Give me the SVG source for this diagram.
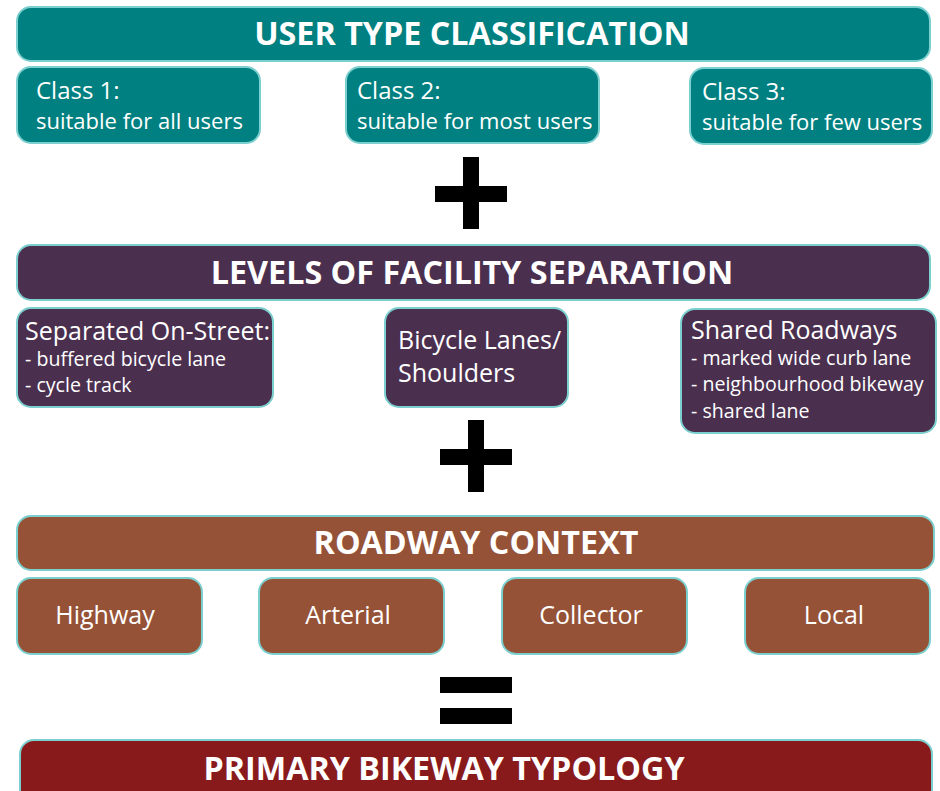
<svg xmlns="http://www.w3.org/2000/svg" width="940" height="791" viewBox="0 0 940 791">
  <style>
    .box { stroke: #7ccfcf; stroke-width: 2; }
    .teal { fill: #008080; }
    .plum { fill: #4b2f4f; }
    .rust { fill: #955237; }
    .wine { fill: #891a1b; }
    text { fill: #ffffff; font-family: "Open Sans", "Liberation Sans", sans-serif; }
    .head { font-size: 32.3px; font-weight: bold; text-anchor: middle; }
    .cls { font-size: 24px; }
    .lg { font-size: 25px; }
    .md { font-size: 22px; }
    .sm { font-size: 19.6px; }
    .mid { text-anchor: middle; }
    .op { fill: #000000; }
  </style>

  <!-- User type classification -->
  <g id="user-type">
    <rect class="box teal" x="17" y="7" width="913" height="54" rx="14"/>
    <text class="head" x="472" y="45">USER TYPE CLASSIFICATION</text>
  </g>
  <g id="class-1">
    <rect class="box teal" x="17" y="67" width="243" height="76" rx="14"/>
    <text class="cls" x="36" y="99">Class 1:</text>
    <text class="md" x="36" y="129">suitable for all users</text>
  </g>
  <g id="class-2">
    <rect class="box teal" x="346" y="67" width="253" height="76" rx="14"/>
    <text class="cls" x="357" y="99">Class 2:</text>
    <text class="md" x="357" y="129">suitable for most users</text>
  </g>
  <g id="class-3">
    <rect class="box teal" x="690" y="68" width="242" height="76" rx="14"/>
    <text class="cls" x="702" y="100">Class 3:</text>
    <text class="md" x="702" y="130">suitable for few users</text>
  </g>

  <!-- Levels of facility separation -->
  <g id="separation">
    <rect class="box plum" x="17" y="245" width="913" height="55" rx="14"/>
    <text class="head" x="472" y="284">LEVELS OF FACILITY SEPARATION</text>
  </g>
  <g id="separated-on-street">
    <rect class="box plum" x="17" y="308" width="256" height="99" rx="14"/>
    <text class="lg" x="25" y="340">Separated On-Street:</text>
    <text class="sm" x="25" y="366">- buffered bicycle lane</text>
    <text class="sm" x="25" y="392">- cycle track</text>
  </g>
  <g id="bicycle-lanes">
    <rect class="box plum" x="385" y="308" width="183" height="99" rx="14"/>
    <text class="lg" x="398" y="349">Bicycle Lanes/</text>
    <text class="lg" x="398" y="382">Shoulders</text>
  </g>
  <g id="shared-roadways">
    <rect class="box plum" x="681" y="309" width="255" height="124" rx="14"/>
    <text class="lg" x="691" y="339">Shared Roadways</text>
    <text class="sm" x="691" y="365">- marked wide curb lane</text>
    <text class="sm" x="691" y="391">- neighbourhood bikeway</text>
    <text class="sm" x="691" y="418">- shared lane</text>
  </g>

  <!-- Roadway context -->
  <g id="roadway-context">
    <rect class="box rust" x="17" y="516" width="917" height="54" rx="14"/>
    <text class="head" x="476" y="554">ROADWAY CONTEXT</text>
  </g>
  <g id="highway">
    <rect class="box rust" x="17" y="578" width="185" height="76" rx="14"/>
    <text class="lg mid" x="105" y="624">Highway</text>
  </g>
  <g id="arterial">
    <rect class="box rust" x="259" y="578" width="185" height="76" rx="14"/>
    <text class="lg mid" x="348" y="624">Arterial</text>
  </g>
  <g id="collector">
    <rect class="box rust" x="502" y="578" width="185" height="76" rx="14"/>
    <text class="lg mid" x="591" y="624">Collector</text>
  </g>
  <g id="local">
    <rect class="box rust" x="745" y="578" width="185" height="76" rx="14"/>
    <text class="lg mid" x="834" y="624">Local</text>
  </g>

  <!-- Primary bikeway typology -->
  <g id="primary-typology">
    <rect class="box wine" x="20" y="740" width="912" height="70" rx="14"/>
    <text class="head" x="444" y="780">PRIMARY BIKEWAY TYPOLOGY</text>
  </g>

  <!-- Operators between the tiers -->
  <g id="connectors">
    <path class="op" d="M463 157h16v29h28v16h-28v27h-16v-27h-28v-16h28z"/>
    <path class="op" d="M468 420h16v29h28v16h-28v27h-16v-27h-28v-16h28z"/>
    <rect class="op" x="440" y="677" width="72" height="16"/>
    <rect class="op" x="440" y="708" width="72" height="16"/>
  </g>
</svg>
